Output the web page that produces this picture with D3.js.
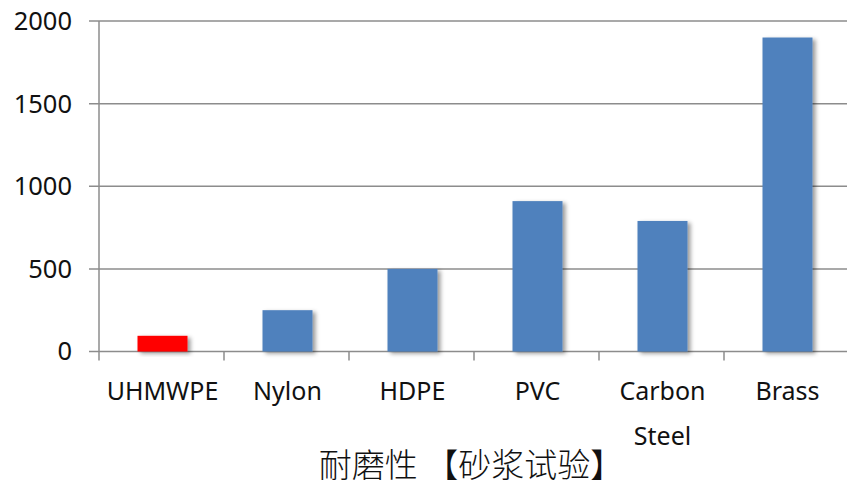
<!DOCTYPE html>
<html>
<head>
<meta charset="utf-8">
<script src="https://cdn.jsdelivr.net/npm/d3@7"></script>
<style>
  body { margin: 0; background: #fff; }
  svg text { font-family: "Noto Sans", "DejaVu Sans", sans-serif; fill: #111; }
</style>
</head>
<body>
<svg id="chart" width="847" height="496"></svg>
<script>
// data
const categories = ['UHMWPE', 'Nylon', 'HDPE', 'PVC', 'Carbon Steel', 'Brass'];
const wear = [95, 250, 500, 910, 790, 1900];
const barColors = ['#ff0000', '#4f81bd', '#4f81bd', '#4f81bd', '#4f81bd', '#4f81bd'];
const yTicks = [0, 500, 1000, 1500, 2000];
const title = '耐磨性 【砂浆试验】';

const svg = d3.select('#chart');
const W = 847;
const plotLeft = 99, plotTop = 21, plotBottom = 351.5;

const x = d3.scaleBand().domain(categories).range([plotLeft, plotLeft + 750]).paddingInner(0.6).paddingOuter(0.3);
const y = d3.scaleLinear().domain([0, 2000]).range([plotBottom, plotTop]);

// drop shadow like the office chart
const defs = svg.append('defs');
const f = defs.append('filter').attr('id', 'shadow').attr('x', '-20%').attr('y', '-20%').attr('width', '150%').attr('height', '150%');
f.append('feDropShadow').attr('dx', 3).attr('dy', 2).attr('stdDeviation', 2)
  .attr('flood-color', '#000').attr('flood-opacity', 0.4);

// gridlines
svg.append('g').selectAll('line')
  .data(yTicks)
  .enter()
  .append('line')
  .attr('x1', plotLeft - 10)
  .attr('x2', W)
  .attr('y1', (d) => y(d))
  .attr('y2', (d) => y(d))
  .attr('stroke', '#8c8c8c')
  .attr('stroke-width', 1.5);

// y labels
svg.append('g').selectAll('text')
  .data(yTicks)
  .enter()
  .append('text')
  .attr('x', 72)
  .attr('y', (d) => y(d))
  .attr('dy', '0.35em')
  .attr('text-anchor', 'end')
  .style('font-size', '25.5px')
  .text((d) => d);

// y axis line
svg.append('line')
  .attr('x1', plotLeft).attr('x2', plotLeft)
  .attr('y1', plotTop).attr('y2', plotBottom)
  .attr('stroke', '#8c8c8c').attr('stroke-width', 1.5);

// bars
svg.append('g').selectAll('rect')
  .data(wear)
  .enter()
  .append('rect')
  .attr('x', (d, i) => x(categories[i]) + 1)
  .attr('y', (d) => y(d))
  .attr('width', x.bandwidth())
  .attr('height', (d) => y(0) - y(d))
  .attr('fill', (d, i) => barColors[i])
  .attr('filter', 'url(#shadow)');

// x axis ticks at band boundaries
const edges = categories.map((c) => x(c) - x.step() * x.paddingOuter()).concat([plotLeft + 750]);
svg.append('g').selectAll('line')
  .data(edges)
  .enter()
  .append('line')
  .attr('x1', (d) => d).attr('x2', (d) => d)
  .attr('y1', plotBottom).attr('y2', plotBottom + 9)
  .attr('stroke', '#8c8c8c').attr('stroke-width', 1.5);

// category labels, wrap on space
const lab = svg.append('g').selectAll('text')
  .data(categories)
  .enter()
  .append('text')
  .attr('text-anchor', 'middle')
  .style('font-size', '25px')
  .attr('transform', (d) => `translate(${x(d) + x.bandwidth() / 2 + 1},400)`);
lab.each(function (d) {
  const words = d === 'Carbon Steel' ? d.split(' ') : [d];
  words.forEach((w, i) => {
    d3.select(this).append('tspan').attr('x', 0).attr('y', i * 45).text(w);
  });
});

// title
svg.append('text')
  .attr('x', 471)
  .attr('y', 477)
  .attr('text-anchor', 'middle')
  .style('font-family', '"Noto Sans CJK SC", sans-serif')
  .style('font-weight', 300)
  .style('font-size', '33px')
  .text(title);
</script>
</body>
</html>
